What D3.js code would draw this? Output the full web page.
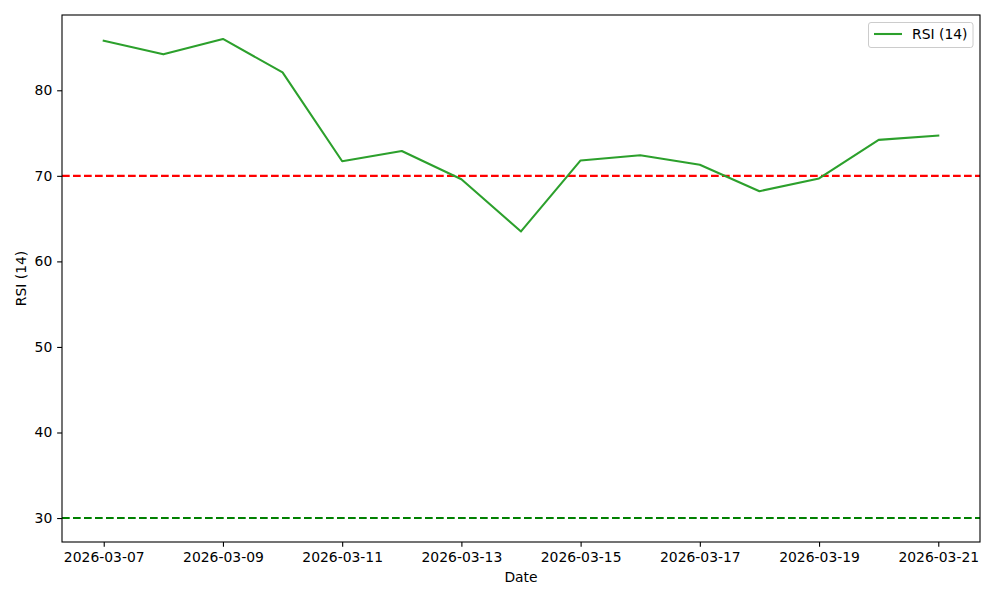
<!DOCTYPE html>
<html>
<head>
<meta charset="utf-8">
<script src="https://cdn.jsdelivr.net/npm/d3@7"></script>
<style>
  body { margin: 0; background: #fff; }
  text { font-family: "DejaVu Sans", sans-serif; }
</style>
</head>
<body>
<svg id="chart" width="1000" height="600"></svg>
<script>
const dates = ["2026-03-07","2026-03-08","2026-03-09","2026-03-10","2026-03-11","2026-03-12","2026-03-13","2026-03-14","2026-03-15","2026-03-16","2026-03-17","2026-03-18","2026-03-19","2026-03-20","2026-03-21"];
const rsi = [85.8, 84.2, 86.0, 82.1, 71.7, 72.9, 69.6, 63.5, 71.8, 72.4, 71.3, 68.2, 69.7, 74.2, 74.7];
const overbought = 70;
const oversold = 30;
const xTickLabels = ["2026-03-07","2026-03-09","2026-03-11","2026-03-13","2026-03-15","2026-03-17","2026-03-19","2026-03-21"];
const yTickValues = [30, 40, 50, 60, 70, 80];
const seriesName = "RSI (14)";
const xLabel = "Date";
const yLabel = "RSI (14)";

const parse = d3.utcParse("%Y-%m-%d");
const data = dates.map((d, i) => ({ date: parse(d), value: rsi[i] }));

const svg = d3.select("#chart");
const margin = { left: 62, right: 20, top: 15, bottom: 58 };
const W = 1000, H = 600;
const iw = W - margin.left - margin.right;
const ih = H - margin.top - margin.bottom;

const x0 = data[0].date, x1 = data[data.length - 1].date;
const span = x1 - x0;
const x = d3.scaleUtc()
  .domain([new Date(+x0 - span * 0.05), new Date(+x1 + span * 0.05)])
  .range([margin.left, margin.left + iw]);

const ymin = Math.min(oversold, d3.min(rsi)), ymax = Math.max(overbought, d3.max(rsi));
const yr = ymax - ymin;
const y = d3.scaleLinear()
  .domain([ymin - yr * 0.05, ymax + yr * 0.05])
  .range([margin.top + ih, margin.top]);

const fs = 13.9;

// Reference lines
svg.append("line")
  .attr("x1", margin.left).attr("x2", margin.left + iw)
  .attr("y1", y(overbought)).attr("y2", y(overbought))
  .attr("stroke", "#ff0000").attr("stroke-width", 2.08)
  .attr("stroke-dasharray", "7.7,3.3");
svg.append("line")
  .attr("x1", margin.left).attr("x2", margin.left + iw)
  .attr("y1", y(oversold)).attr("y2", y(oversold))
  .attr("stroke", "#008000").attr("stroke-width", 2.08)
  .attr("stroke-dasharray", "7.7,3.3");

// Series line
svg.append("path")
  .datum(data)
  .attr("fill", "none")
  .attr("stroke", "#2ca02c")
  .attr("stroke-width", 2.08)
  .attr("stroke-linejoin", "round")
  .attr("stroke-linecap", "square")
  .attr("d", d3.line().x(d => x(d.date)).y(d => y(d.value)));

// Axes
const xAxis = d3.axisBottom(x)
  .tickValues(xTickLabels.map(parse))
  .tickFormat(d3.utcFormat("%Y-%m-%d"))
  .tickSize(4.86).tickPadding(4.86);
const gx = svg.append("g")
  .attr("transform", `translate(0,${margin.top + ih})`)
  .call(xAxis);
gx.select(".domain").remove();
gx.selectAll("line").attr("stroke", "#000").attr("stroke-width", 1.1);
gx.selectAll("text").attr("font-size", fs).attr("fill", "#000").attr("font-family", "DejaVu Sans");

const yAxis = d3.axisLeft(y)
  .tickValues(yTickValues)
  .tickFormat(d3.format("d"))
  .tickSize(4.86).tickPadding(4.86);
const gy = svg.append("g")
  .attr("transform", `translate(${margin.left},0)`)
  .call(yAxis);
gy.select(".domain").remove();
gy.selectAll("line").attr("stroke", "#000").attr("stroke-width", 1.1);
gy.selectAll("text").attr("font-size", fs).attr("fill", "#000").attr("font-family", "DejaVu Sans");

// Frame
svg.append("rect")
  .attr("x", margin.left).attr("y", margin.top)
  .attr("width", iw).attr("height", ih)
  .attr("fill", "none").attr("stroke", "#000").attr("stroke-width", 1.1);

// Axis labels
svg.append("text")
  .attr("x", margin.left + iw / 2).attr("y", 582)
  .attr("text-anchor", "middle").attr("font-size", fs).text(xLabel);
svg.append("text")
  .attr("transform", `translate(26,${margin.top + ih / 2}) rotate(-90)`)
  .attr("text-anchor", "middle").attr("font-size", fs).text(yLabel);

// Legend
const lg = svg.append("g");
lg.append("rect")
  .attr("x", 868.5).attr("y", 22.5).attr("width", 104.5).attr("height", 25)
  .attr("rx", 2.5).attr("fill", "#fff").attr("fill-opacity", 0.8)
  .attr("stroke", "#cccccc").attr("stroke-width", 1);
lg.append("line")
  .attr("x1", 874).attr("x2", 902).attr("y1", 34).attr("y2", 34)
  .attr("stroke", "#2ca02c").attr("stroke-width", 2.08);
lg.append("text")
  .attr("x", 912).attr("y", 39)
  .attr("font-size", fs).text(seriesName);
</script>
</body>
</html>
